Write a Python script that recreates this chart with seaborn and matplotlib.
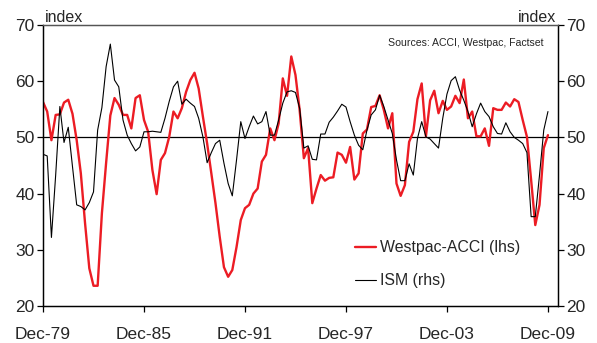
import matplotlib
matplotlib.use("Agg")
import matplotlib.pyplot as plt
from matplotlib.lines import Line2D
import numpy as np
import pandas as pd
import seaborn as sns

# Quarterly observations, Dec-1979 .. Dec-2009
westpac_acci = [
    56.3,
    54.6, 49.5, 54.0, 54.1,
    56.2, 56.7, 54.2, 49.5,
    43.6, 34.7, 26.7, 23.6,
    23.6, 36.5, 45.5, 53.9,
    57.0, 55.8, 54.0, 54.0,
    51.6, 57.0, 57.5, 53.1,
    51.0, 44.2, 39.9, 46.0,
    47.2, 50.1, 54.6, 53.4,
    55.2, 58.1, 60.2, 61.5,
    58.7, 53.7, 48.9, 43.6,
    38.3, 32.3, 26.9, 25.2,
    26.4, 30.5, 35.3, 37.4,
    38.0, 40.0, 40.9, 45.7,
    46.9, 51.6, 49.5, 52.5,
    60.5, 57.4, 64.4, 61.1,
    54.9, 46.3, 48.1, 38.3,
    40.9, 43.3, 42.3, 42.8,
    42.9, 47.3, 46.9, 45.5,
    48.3, 42.5, 43.6, 50.7,
    51.4, 55.4, 55.6, 57.5,
    54.9, 51.6, 54.3, 41.8,
    39.6, 41.5, 49.2, 51.0,
    56.8, 59.6, 50.2, 56.6,
    58.3, 54.3, 56.5, 54.9,
    55.5, 57.4, 56.1, 60.3,
    53.4, 54.6, 50.2, 50.2,
    51.6, 48.5, 55.2, 54.9,
    54.9, 56.2, 55.5, 56.8,
    56.3, 53.1, 50.1, 42.4,
    34.4, 38.0, 48.1, 50.4,
]

ism = [
    47.0,
    46.7, 32.2, 43.3, 55.5,
    49.1, 51.8, 44.8, 38.0,
    37.7, 37.1, 38.4, 40.3,
    51.3, 55.3, 62.6, 66.6,
    60.2, 59.0, 53.1, 50.4,
    48.9, 47.6, 48.3, 51.0,
    51.0, 51.1, 51.0, 50.9,
    53.4, 56.4, 59.0, 60.0,
    55.9, 56.8, 56.1, 55.5,
    53.4, 50.1, 45.5, 47.3,
    48.9, 49.5, 45.4, 41.8,
    39.6, 46.0, 52.8, 49.8,
    51.9, 53.8, 52.4, 52.8,
    54.6, 50.4, 50.4, 53.1,
    56.1, 58.1, 58.3, 58.0,
    55.2, 48.1, 48.5, 46.1,
    46.0, 50.6, 50.6, 52.7,
    53.6, 54.7, 55.9, 55.4,
    52.8, 50.4, 48.6, 47.8,
    51.3, 54.0, 54.9, 57.5,
    55.5, 53.1, 50.7, 46.0,
    42.3, 42.3, 45.3, 43.3,
    49.8, 52.8, 50.1, 49.7,
    48.9, 48.1, 53.4, 57.7,
    60.1, 60.8, 58.4, 56.6,
    54.6, 51.9, 54.2, 56.1,
    54.6, 53.7, 51.9, 50.7,
    50.6, 52.6, 51.0, 50.0,
    49.5, 48.9, 47.3, 35.9,
    35.9, 43.3, 51.3, 54.6,
]

tick_labels = ["Dec-79", "Dec-85", "Dec-91", "Dec-97", "Dec-03", "Dec-09"]
tick_years = [1979, 1985, 1991, 1997, 2003, 2009]
y_ticks = [20, 30, 40, 50, 60, 70]

dates = pd.date_range("1979-12-01", periods=len(westpac_acci), freq="3MS")
df = pd.DataFrame({"date": dates, "Westpac-ACCI (lhs)": westpac_acci, "ISM (rhs)": ism})

sns.set_style("ticks")
plt.rcParams["font.family"] = ["Liberation Sans", "DejaVu Sans"]

RED = "#ec1c24"
TICK_FS = 12.5
fig = plt.figure(figsize=(5.97, 3.43), dpi=100)
ax = fig.add_axes([43 / 597, 1 - 306 / 343, (558 - 43) / 597, (306 - 25) / 343])
ax2 = ax.twinx()

sns.lineplot(data=df, x="date", y="Westpac-ACCI (lhs)", ax=ax, color=RED, lw=1.7)
sns.lineplot(data=df, x="date", y="ISM (rhs)", ax=ax2, color="black", lw=0.8)

ax.axhline(50, color="black", lw=0.9, zorder=1)

xmin = pd.Timestamp("1979-12-01")
xmax = xmin + pd.Timedelta(days=int(30.6 * 365.25))
ax.set_xlim(xmin, xmax)
for a in (ax, ax2):
    a.set_ylim(20, 70)
    a.set_yticks(y_ticks)
    a.set_ylabel("")
    a.set_xlabel("")
ax.set_xticks([pd.Timestamp(f"{y}-12-01") for y in tick_years])
ax.set_xticklabels(tick_labels)

for a in (ax, ax2):
    for s in a.spines.values():
        s.set_color("black")
        s.set_linewidth(0.9)
    a.spines["top"].set_color("#555555")
    a.tick_params(axis="both", labelsize=TICK_FS, length=4, width=0.9, color="black", pad=2)
ax.tick_params(axis="x", pad=11)

ax.text(0.003, 1.0, "index", transform=ax.transAxes, ha="left", va="bottom", fontsize=11.5)
ax.text(0.997, 1.0, "index", transform=ax.transAxes, ha="right", va="bottom", fontsize=11.5)
ax.text(0.972, 0.955, "Sources: ACCI, Westpac, Factset", transform=ax.transAxes,
        ha="right", va="top", fontsize=7.6)

handles = [Line2D([], [], color=RED, lw=1.7), Line2D([], [], color="black", lw=0.8)]
ax2.legend(handles, ["Westpac-ACCI (lhs)", "ISM (rhs)"], loc="upper left",
           bbox_to_anchor=((352 - 43) / 515, (306 - 237) / 281), frameon=False,
           fontsize=11.4, handlelength=1.3, handletextpad=0.3, labelspacing=1.15,
           borderaxespad=0, borderpad=0.2)

fig.savefig("out.png", dpi=100)
